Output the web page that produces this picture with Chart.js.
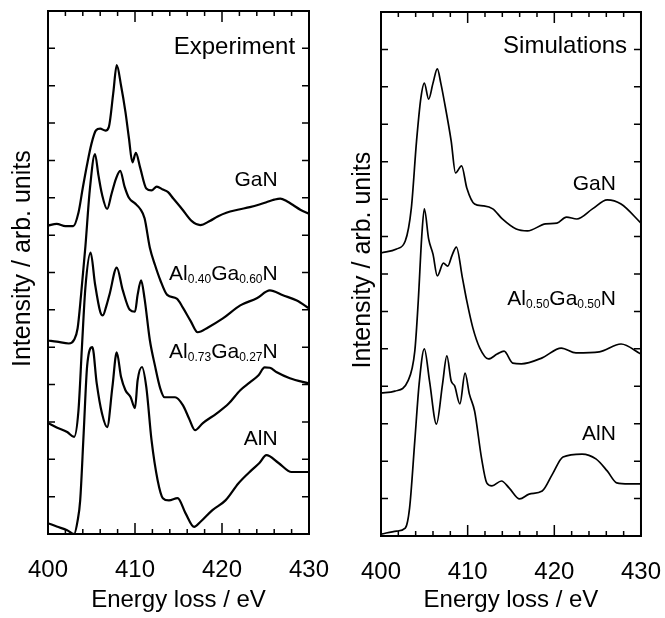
<!DOCTYPE html>
<html>
<head>
<meta charset="utf-8">
<script src="https://cdn.jsdelivr.net/npm/chart.js@4.4.1/dist/chart.umd.min.js"></script>
<style>
  html, body { margin: 0; padding: 0; background: #fff; overflow: hidden; }
  canvas { position: absolute; top: 0; }
  #exp { left: 0; }
  #sim { left: 340px; }
</style>
</head>
<body>
<canvas id="exp" width="335" height="618"></canvas>
<canvas id="sim" width="325" height="618"></canvas>
<script>
// x axis labels (eV)
var energyTicks = [400, 410, 420, 430];

// Experiment: [energy loss (eV), intensity (offset, arb. units)]
var expGaN = [[400, 8.26], [401, 8.3], [402, 8.24], [402.9, 8.24], [403.5, 8.6], [404, 9.27], [404.5, 9.9], [405, 10.45],
  [405.5, 10.8], [406, 10.85], [406.6, 10.8], [407, 10.9], [407.5, 11.8], [407.9, 12.55], [408.4, 12.0], [408.9, 11.3],
  [409.3, 10.6], [409.7, 9.95], [410.1, 10.2], [410.6, 9.8], [411.3, 9.25], [411.9, 9.2], [412.5, 9.3], [413.2, 9.22],
  [413.8, 9.15], [414.4, 8.98], [415.4, 8.7], [416.5, 8.38], [417.5, 8.27], [418.6, 8.38], [419.5, 8.5], [420.5, 8.6],
  [421.8, 8.68], [423.2, 8.75], [424.3, 8.82], [425.1, 8.88], [426, 8.95], [426.7, 8.98], [427.5, 8.9], [428.2, 8.8],
  [429, 8.68], [430, 8.57]];
var expAl40 = [[400, 5.18], [401, 5.15], [402.4, 5.1], [403, 5.2], [403.4, 5.5], [403.8, 6.4], [404.3, 7.7], [404.8, 9.2],
  [405.4, 10.17], [405.8, 9.6], [406.2, 9.1], [406.8, 8.7], [407.3, 9.1], [407.8, 9.5], [408.3, 9.72], [408.8, 9.3],
  [409.3, 9.0], [410, 8.85], [410.6, 8.7], [411.1, 8.45], [411.7, 7.67], [412.3, 7.2], [412.9, 6.8], [413.7, 6.4],
  [414.8, 6.3], [415.5, 6.06], [416.4, 5.7], [417.2, 5.4], [418.4, 5.53], [420.1, 5.77], [422.1, 6.12], [424, 6.31],
  [425.5, 6.52], [427, 6.39], [428.6, 6.25], [430, 6.04]];
var expAl73 = [[400, 2.97], [401, 2.85], [402.2, 2.73], [403, 2.6], [403.5, 3.3], [403.9, 5.0], [404.3, 6.6], [404.9, 7.53],
  [405.4, 6.7], [406, 5.95], [406.3, 5.85], [406.7, 6.1], [407.1, 6.44], [407.9, 7.13], [408.6, 6.52], [409.4, 6.0],
  [410, 5.95], [410.3, 6.4], [410.7, 6.79], [411.1, 6.3], [411.7, 5.2], [412.3, 4.5], [412.9, 3.9], [413.4, 3.66],
  [414.6, 3.66], [415.5, 3.45], [416.2, 3.1], [416.9, 2.78], [417.8, 2.97], [419.4, 3.23], [420.8, 3.5], [422.1, 3.85],
  [423.2, 4.06], [424.2, 4.25], [424.9, 4.46], [425.5, 4.45], [426.3, 4.33], [427.8, 4.17], [430, 4.03]];
var expAlN = [[400, 0.29], [401, 0.2], [402.2, 0.1], [403, 0.0], [403.4, 0.35], [403.7, 0.9], [404.1, 2.7], [404.5, 4.5],
  [405.1, 5.0], [405.6, 4.03], [406.2, 3.23], [406.8, 2.86], [407.4, 3.93], [407.9, 4.86], [408.4, 4.2], [408.9, 3.85],
  [409.5, 3.66], [410, 3.37], [410.3, 4.11], [410.8, 4.47], [411.3, 3.93], [411.9, 2.51], [412.6, 1.44], [413.2, 0.96],
  [413.9, 0.9], [414.9, 0.96], [415.8, 0.56], [416.8, 0.19], [417.5, 0.32], [418.9, 0.64], [420.4, 0.9], [421.9, 1.36],
  [423.4, 1.71], [424.3, 1.9], [425.1, 2.11], [426.5, 1.9], [428, 1.66], [430, 1.66]];

// Simulations
var simGaN = [[400, 7.56], [401.8, 7.67], [402.8, 7.88], [403.5, 8.76], [404.1, 10.55], [404.6, 11.7], [405, 12.1],
  [405.5, 11.67], [406, 12.1], [406.5, 12.48], [406.9, 12.1], [407.3, 11.62], [408.1, 10.55], [408.6, 9.7], [409.3, 9.89],
  [409.9, 9.3], [410.8, 8.87], [411.8, 8.82], [412.9, 8.74], [414, 8.47], [415.6, 8.2], [416.9, 8.15], [419, 8.34],
  [420.3, 8.36], [421.4, 8.52], [422.6, 8.47], [424.4, 8.74], [426.1, 8.98], [427.7, 8.87], [430, 8.36]];
var simAl50 = [[400, 3.82], [401.6, 3.87], [403.1, 4.14], [403.9, 4.94], [404.3, 6.28], [404.7, 8.0], [405, 8.74],
  [405.5, 7.93], [406, 7.53], [406.5, 6.95], [407.2, 7.29], [407.7, 7.21], [408.2, 7.5], [408.7, 7.72], [409.4, 6.89],
  [409.9, 6.28], [410.6, 5.56], [411.4, 5.02], [412.4, 4.73], [413.4, 4.86], [414.2, 4.94], [415.2, 4.62], [416.2, 4.6],
  [418.6, 4.76], [420.8, 5.02], [422.5, 4.89], [425.2, 4.92], [427.7, 5.13], [430, 4.86]];
var simAlN = [[400, 0.05], [401.8, 0.13], [402.8, 0.21], [403.3, 0.75], [403.9, 2.54], [404.4, 4.06], [405, 5.0],
  [405.6, 4.14], [406.4, 2.99], [407.1, 4.06], [407.6, 4.81], [408.1, 4.14], [408.5, 4.01], [409.1, 3.53], [409.7, 4.35],
  [410.2, 3.79], [410.8, 3.34], [411.6, 2.08], [412.2, 1.42], [412.8, 1.34], [413.9, 1.47], [414.8, 1.28], [416, 0.99],
  [417.1, 1.12], [418.6, 1.2], [419.8, 1.66], [421, 2.11], [423.2, 2.19], [424.8, 2.06], [426.1, 1.74], [427.2, 1.42],
  [428.6, 1.39], [430, 1.39]];

var FONT = "'Liberation Sans', Arial, sans-serif";

// frame, inward ticks and text labels (sub_{script})
var framePlugin = {
  id: 'frame',
  afterDraw: function (chart, args, opts) {
    var ctx = chart.ctx;
    var a = chart.chartArea;
    var xs = chart.scales.x;
    var ys = chart.scales.y;
    ctx.save();
    ctx.strokeStyle = '#000';
    ctx.lineWidth = 1.5;
    ctx.beginPath();
    for (var e = xs.min; e <= xs.max; e += 2) {
      var px = xs.getPixelForValue(e);
      var len = (e % 10 === 0) ? 11 : 5;
      ctx.moveTo(px, a.bottom); ctx.lineTo(px, a.bottom - len);
      ctx.moveTo(px, a.top); ctx.lineTo(px, a.top + len);
    }
    for (var v = ys.min + 1; v < ys.max; v++) {
      var py = ys.getPixelForValue(v);
      ctx.moveTo(a.left, py); ctx.lineTo(a.left + 7, py);
      ctx.moveTo(a.right, py); ctx.lineTo(a.right - 7, py);
    }
    ctx.stroke();
    ctx.lineWidth = 2;
    ctx.strokeRect(a.left, a.top, a.right - a.left, a.bottom - a.top);

    ctx.fillStyle = '#000';
    ctx.textAlign = 'left';
    ctx.textBaseline = 'alphabetic';
    opts.labels.forEach(function (lab) {
      var parts = lab.text.split(/_\{([^}]*)\}/);
      var widths = parts.map(function (p, i) {
        ctx.font = (i % 2 ? 12 : lab.size) + 'px ' + FONT;
        return ctx.measureText(p).width;
      });
      var total = widths.reduce(function (s, w) { return s + w; }, 0);
      var x = xs.getPixelForValue(lab.x) - total;
      var y = ys.getPixelForValue(lab.y);
      parts.forEach(function (p, i) {
        ctx.font = (i % 2 ? 12 : lab.size) + 'px ' + FONT;
        ctx.fillText(p, x, i % 2 ? y + 3 : y);
        x += widths[i];
      });
    });
    ctx.restore();
  }
};

function line(data, width) {
  return {
    data: data.map(function (d) { return { x: d[0], y: d[1] }; }),
    borderColor: '#000',
    borderWidth: width,
    pointRadius: 0,
    fill: false,
    cubicInterpolationMode: 'monotone'
  };
}

function panel(id, datasets, labels, padTop, padRight, xHeight, yWidth) {
  var ctx = document.querySelector(id).getContext('2d');
  return new Chart(ctx, {
    type: 'line',
    data: { datasets: datasets },
    options: {
      responsive: false,
      animation: false,
      layout: { padding: { top: padTop, right: padRight, left: 0, bottom: 0 } },
      scales: {
        x: {
          type: 'linear', min: 400, max: 430,
          afterBuildTicks: function (axis) { axis.ticks = energyTicks.map(function (v) { return { value: v }; }); },
          afterFit: function (axis) { axis.height = xHeight; },
          grid: { display: false },
          border: { display: false },
          // tall line box instead of big padding, so the last label does not squeeze the plot
          ticks: { font: { size: 24, family: FONT, lineHeight: 2.0 }, color: '#000', padding: 4, maxRotation: 0, autoSkip: false },
          title: { display: true, text: 'Energy loss / eV', color: '#000', font: { size: 24, family: FONT }, padding: { top: 0, bottom: 3 } }
        },
        y: {
          min: 0, max: 14,
          afterFit: function (axis) { axis.width = yWidth; },
          grid: { display: false },
          border: { display: false },
          ticks: { display: false },
          // leading spaces lift the title a little above the axis centre, as in the original
          title: { display: true, text: '    Intensity / arb. units', color: '#000', font: { size: 25, family: FONT }, padding: { top: 8, bottom: 0 } }
        }
      },
      plugins: {
        legend: { display: false },
        tooltip: { enabled: false },
        frame: { labels: labels }
      }
    },
    plugins: [framePlugin]
  });
}

window.onload = function () {
  panel('#exp',
    [line(expGaN, 2.2), line(expAl40, 2.2), line(expAl73, 2.2), line(expAlN, 2.2)],
    [
      { text: 'Experiment', x: 428.4, y: 12.85, size: 24 },
      { text: 'GaN', x: 426.4, y: 9.32, size: 21 },
      { text: 'Al_{0.40}Ga_{0.60}N', x: 426.4, y: 6.79, size: 21 },
      { text: 'Al_{0.73}Ga_{0.27}N', x: 426.4, y: 4.70, size: 21 },
      { text: 'AlN', x: 426.4, y: 2.38, size: 21 }
    ], 11, 26, 84, 48);

  panel('#sim',
    [line(simGaN, 1.7), line(simAl50, 1.7), line(simAlN, 1.7)],
    [
      { text: 'Simulations', x: 428.4, y: 12.9, size: 24 },
      { text: 'GaN', x: 427.1, y: 9.25, size: 21 },
      { text: 'Al_{0.50}Ga_{0.50}N', x: 427.1, y: 6.18, size: 21 },
      { text: 'AlN', x: 427.1, y: 2.57, size: 21 }
    ], 12, 24, 82, 41);
};
</script>
</body>
</html>
